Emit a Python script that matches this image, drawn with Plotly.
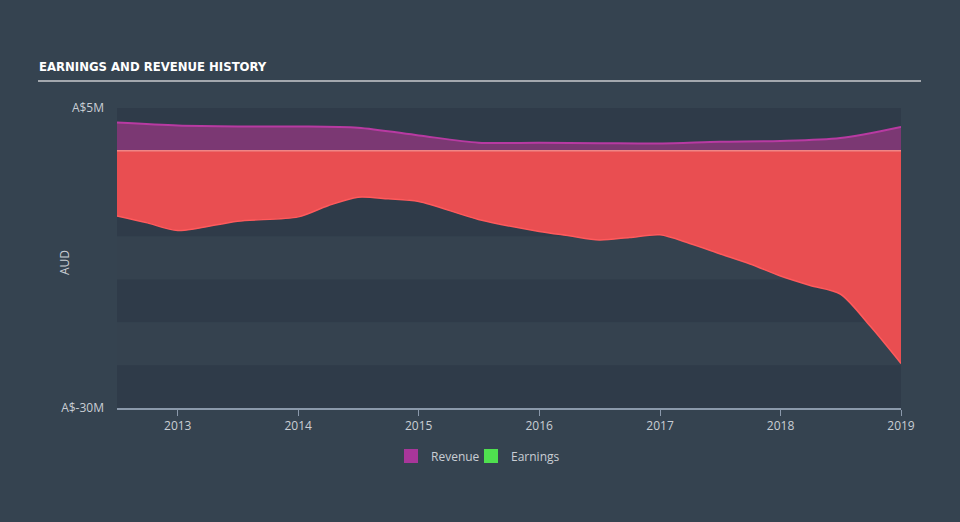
import plotly.graph_objects as go

# ---- data (A$ millions) ----
rev_dates = ["2012-07-01", "2013-01-01", "2013-07-01", "2014-01-01", "2014-07-01",
             "2015-01-01", "2015-07-01", "2016-01-01", "2016-07-01", "2017-01-01",
             "2017-07-01", "2018-01-01", "2018-07-01", "2019-01-01"]
revenue = [3.3, 2.95, 2.85, 2.85, 2.7, 1.8, 0.95, 0.95, 0.9, 0.85, 1.05, 1.15, 1.5, 2.8]

earn_dates = ["2012-07-01", "2012-10-01", "2013-01-01", "2013-07-01", "2014-01-01",
              "2014-04-01", "2014-07-01", "2014-10-01", "2015-01-01", "2015-07-01",
              "2016-01-01", "2016-04-01", "2016-07-01", "2016-10-01", "2017-01-01",
              "2017-04-01", "2017-07-01", "2017-10-01", "2018-01-01", "2018-04-01",
              "2018-07-01", "2018-10-01", "2019-01-01"]
earnings = [-7.6, -8.4, -9.3, -8.2, -7.7, -6.4, -5.4, -5.6, -5.9, -8.0,
            -9.4, -9.9, -10.4, -10.1, -9.8, -10.8, -12.0, -13.2, -14.6, -15.7,
            -16.7, -20.5, -24.8]

y_ticks = [5, -30]
y_tick_text = ["A$5M", "A$-30M"]
band_edges = [5, 0, -5, -10, -15, -20, -25, -30]

PAPER = "#354350"
DARK_BAND = "#2f3b49"
LIGHT_BAND = "#35424f"
TXT = "#c9ced4"
FONT = "Open Sans, Lato, sans-serif"

fig = go.Figure()

fig.add_trace(go.Scatter(
    x=earn_dates, y=earnings, mode="lines", fill="tozeroy",
    line=dict(color="#ff5a5c", width=1.5, shape="spline", smoothing=0.8),
    fillcolor="#e94e51", showlegend=False, hoverinfo="skip"))

fig.add_trace(go.Scatter(
    x=rev_dates, y=revenue, mode="lines", fill="tozeroy",
    line=dict(color="#b83aa2", width=2, shape="spline", smoothing=0.8),
    fillcolor="#7b3873", showlegend=False, hoverinfo="skip"))

# legend swatches
fig.add_trace(go.Scatter(x=[None], y=[None], mode="markers", name="Revenue",
                         marker=dict(symbol="square", size=14, color="#a8369a")))
fig.add_trace(go.Scatter(x=[None], y=[None], mode="markers", name="Earnings",
                         marker=dict(symbol="square", size=14, color="#4fe04f")))
# invisible spacer entry so the last legend label is not clipped
fig.add_trace(go.Scatter(x=[None], y=[None], mode="markers", name=" ",
                         marker=dict(symbol="square", size=1, color="rgba(0,0,0,0)",
                                     line=dict(width=0))))

shapes = []
for i in range(len(band_edges) - 1):
    shapes.append(dict(type="rect", xref="paper", yref="y", x0=0, x1=1,
                       y0=band_edges[i + 1], y1=band_edges[i], layer="below",
                       line=dict(width=0),
                       fillcolor=DARK_BAND if i % 2 == 0 else LIGHT_BAND))
# zero line
shapes.append(dict(type="line", xref="paper", yref="y", x0=0, x1=1, y0=0, y1=0,
                   line=dict(color="#f08585", width=1.5), layer="above"))
# title underline
shapes.append(dict(type="line", xref="paper", yref="paper",
                   x0=(38 - 117) / 784, x1=(921 - 117) / 784,
                   y0=(408 - 81) / 300, y1=(408 - 81) / 300,
                   line=dict(color="#a3a8ae", width=2)))

fig.update_layout(
    width=960, height=522,
    margin=dict(l=117, r=59, t=108, b=114),
    paper_bgcolor=PAPER, plot_bgcolor=PAPER,
    font=dict(family=FONT, color=TXT, size=12),
    shapes=shapes,
    showlegend=True,
    legend=dict(orientation="h", x=(391 - 117) / 784, xanchor="left", y=-0.16,
                yanchor="middle", entrywidth=35, entrywidthmode="pixels",
                font=dict(size=12, color=TXT), itemwidth=30, bgcolor="rgba(0,0,0,0)"),
    annotations=[
        dict(text="<b>EARNINGS AND REVENUE HISTORY</b>", xref="paper", yref="paper",
             x=(37 - 117) / 784, y=(408 - 67) / 300, xanchor="left", yanchor="middle",
             showarrow=False,
             font=dict(family="DejaVu Sans Condensed, Liberation Sans Narrow, sans-serif",
                       size=13, color="#ffffff")),
        dict(text="AUD", xref="paper", yref="paper", textangle=-90,
             x=(64 - 117) / 784, y=(408 - 262) / 300, xanchor="center", yanchor="middle",
             showarrow=False, font=dict(size=12, color=TXT)),
    ],
    xaxis=dict(type="date", range=["2012-07-01", "2019-01-01"],
               tick0="2013-01-01", dtick="M12", tickformat="%Y",
               ticks="outside", ticklen=6, tickcolor="#8b99ab",
               showline=True, linecolor="#8b99ab", linewidth=1.5,
               showgrid=False, zeroline=False,
               tickfont=dict(size=12, color=TXT)),
    yaxis=dict(range=[-30, 5], tickvals=y_ticks, ticktext=y_tick_text,
               showgrid=False, zeroline=False, showline=False, ticks="",
               ticklabelstandoff=12,
               tickfont=dict(size=12, color=TXT)),
)

fig.write_html("out.html")
